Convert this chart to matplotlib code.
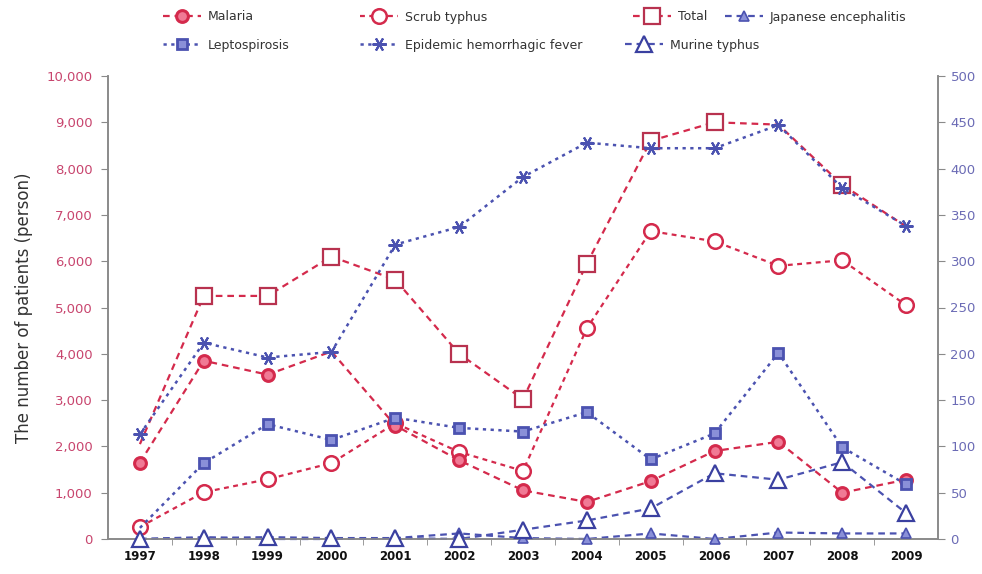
import matplotlib
matplotlib.use("Agg")
import matplotlib.pyplot as plt
from matplotlib.lines import Line2D
from matplotlib.ticker import FuncFormatter, FixedLocator

years = [1997, 1998, 1999, 2000, 2001, 2002, 2003, 2004, 2005, 2006, 2007, 2008, 2009]

# left axis (persons, up to 10,000)
malaria = [1650, 3850, 3550, 4050, 2450, 1700, 1050, 800, 1250, 1900, 2100, 1000, 1280]
scrub_typhus = [260, 1010, 1290, 1640, 2500, 1880, 1470, 4550, 6650, 6430, 5900, 6020, 5050]
total = [2050, 5250, 5250, 6100, 5600, 4000, 3020, 5950, 8600, 9000, 8950, 7650, 6750]

# right axis (persons, up to 500)
leptospirosis = [12, 82, 124, 107, 131, 120, 116, 137, 86, 114, 201, 99, 59]
ehf = [113, 212, 196, 202, 318, 337, 391, 428, 422, 422, 447, 379, 338]
japanese_enc = [0, 2, 0, 0, 1, 6, 1, 0, 6, 0, 7, 6, 6]
murine_typhus = [0, 1, 2, 1, 1, 0, 10, 20, 33, 71, 64, 83, 28]

# years whose point symbol is left out where series overlap
malaria_unmarked = [2000]
total_unmarked = [1997, 2007, 2009]
lepto_unmarked = [1997]

left_ticks = list(range(0, 10001, 1000))
right_ticks = list(range(0, 501, 50))

RED = "#d42a4c"
RED_LIGHT = "#f07a95"
BLUE = "#4b52b0"
BLUE_LIGHT = "#8a90d8"
SPINE = "#8a8a8a"

fig = plt.figure(figsize=(9.82, 5.74), dpi=100)
ax = fig.add_axes([108 / 982, 35 / 574, 830 / 982, 463 / 574])
ax2 = ax.twinx()

red_dash = (0, (3.0, 2.2))
red_dot = (0, (2.2, 2.0))
blue_dot = (0, (1.3, 1.8))
blue_dash = (0, (3.0, 2.2))

styles = {
    "Malaria": dict(color=RED, lw=1.6, ls=red_dash, marker="o", ms=8.5,
                    mfc=RED_LIGHT, mec=RED, mew=2.2),
    "Scrub typhus": dict(color=RED, lw=1.6, ls=red_dot, marker="o", ms=10.5,
                         mfc="white", mec=RED, mew=1.8),
    "Total": dict(color=RED, lw=1.6, ls=red_dash, marker="s", ms=11,
                  mfc="white", mec="#b8324f", mew=1.6),
    "Leptospirosis": dict(color=BLUE, lw=1.8, ls=blue_dot, marker="s", ms=7.5,
                          mfc=BLUE_LIGHT, mec=BLUE, mew=2.0),
    "Epidemic hemorrhagic fever": dict(color=BLUE, lw=1.8, ls=blue_dot, marker=(6, 2, 90),
                                       ms=10, mfc=BLUE, mec=BLUE, mew=1.5),
    "Japanese encephalitis": dict(color=BLUE, lw=1.6, ls=blue_dash, marker="^", ms=7,
                                  mfc=BLUE_LIGHT, mec=BLUE, mew=1.2),
    "Murine typhus": dict(color=BLUE, lw=1.6, ls=blue_dash, marker="^", ms=12,
                          mfc="white", mec="#3a40a0", mew=1.6),
}


def draw(axis, name, values, unmarked=()):
    st = dict(styles[name])
    line_kw = {k: st[k] for k in ("color", "lw", "ls")}
    axis.plot(years, values, clip_on=False, zorder=2, **line_kw)
    xs = [y for y in years if y not in unmarked]
    vs = [v for y, v in zip(years, values) if y not in unmarked]
    axis.plot(xs, vs, ls="none", marker=st["marker"], ms=st["ms"], mfc=st["mfc"],
              mec=st["mec"], mew=st["mew"], clip_on=False, zorder=3)


draw(ax, "Total", total, total_unmarked)
draw(ax, "Scrub typhus", scrub_typhus)
draw(ax, "Malaria", malaria, malaria_unmarked)
draw(ax2, "Leptospirosis", leptospirosis, lepto_unmarked)
draw(ax2, "Epidemic hemorrhagic fever", ehf)
draw(ax2, "Japanese encephalitis", japanese_enc)
draw(ax2, "Murine typhus", murine_typhus)

ax.set_xlim(1996.5, 2009.5)
ax.set_ylim(0, 10000)
ax2.set_ylim(0, 500)

ax.set_yticks(left_ticks)
ax.yaxis.set_major_formatter(FuncFormatter(lambda v, p: f"{int(v):,}"))
ax2.set_yticks(right_ticks)

ax.set_xticks(years)
ax.set_xticklabels([str(y) for y in years], fontsize=8.5, fontweight="bold", color="#111111")
ax.xaxis.set_minor_locator(FixedLocator([y + 0.5 for y in years[:-1]]))
ax.tick_params(axis="x", which="major", length=0, pad=8)
ax.tick_params(axis="x", which="minor", length=4, color=SPINE, direction="out")

ax.tick_params(axis="y", length=5, color=SPINE, labelsize=9.5, labelcolor="#c8456e", pad=6)
ax2.tick_params(axis="y", length=5, color=SPINE, labelsize=9.5, labelcolor="#6b6bb5", pad=4)

for a in (ax, ax2):
    a.spines["top"].set_visible(False)
    for s in ("left", "right", "bottom"):
        a.spines[s].set_color(SPINE)
        a.spines[s].set_linewidth(1.2)

ax.set_ylabel("The number of patients (person)", fontsize=12, color="#333333", labelpad=10)

# legend entries placed individually in two rows
entries = [
    ("Malaria", 163, 17),
    ("Scrub typhus", 360, 17),
    ("Total", 633, 17),
    ("Japanese encephalitis", 725, 17),
    ("Leptospirosis", 163, 45),
    ("Epidemic hemorrhagic fever", 360, 45),
    ("Murine typhus", 625, 45),
]
for name, px, py in entries:
    handle = Line2D([], [], **styles[name])
    leg = fig.legend([handle], [name], loc="center left",
                     bbox_to_anchor=(px / 982, 1 - py / 574),
                     bbox_transform=fig.transFigure, frameon=False,
                     fontsize=9, handlelength=3.0, handletextpad=0.6,
                     borderpad=0, borderaxespad=0)
    for t in leg.get_texts():
        t.set_color("#333333")

fig.savefig("out.png", dpi=100)
